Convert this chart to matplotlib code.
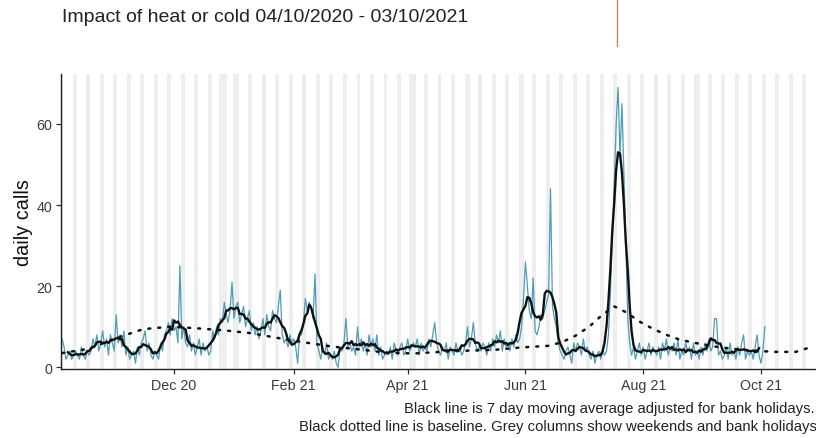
import numpy as np
import pandas as pd
import matplotlib
matplotlib.use("Agg")
import matplotlib.pyplot as plt
import matplotlib.dates as mdates
from matplotlib.lines import Line2D

plt.rcParams["font.family"] = ["Liberation Sans", "DejaVu Sans"]

# ======================================
# DATA
# ======================================

START = "2020-10-04"

# daily calls 04/10/2020 - 03/10/2021, one row per week (Sun..Sat)
daily_calls = [
    7, 5, 2, 3, 4, 2, 3,
    4, 3, 2, 5, 3, 2, 4,
    3, 4, 7, 5, 8, 4, 6,
    9, 5, 7, 3, 8, 6, 4,
    13, 6, 8, 5, 9, 3, 5,
    2, 3, 4, 1, 5, 3, 6,
    7, 9, 4, 6, 3, 2, 4,
    3, 2, 6, 4, 8, 9, 11,
    8, 12, 9, 10, 6, 25, 7,
    10, 6, 5, 8, 4, 6, 3,
    5, 7, 3, 6, 4, 5, 3,
    4, 9, 7, 10, 8, 12, 11,
    16, 13, 11, 14, 21, 12, 15,
    16, 11, 13, 15, 10, 12, 14,
    9, 11, 8, 10, 7, 9, 12,
    8, 13, 10, 9, 14, 12, 11,
    15, 19, 8, 6, 7, 5, 8,
    6, 7, 5, 1, 8, 8, 11,
    17, 14, 16, 15, 12, 23, 6,
    4, 2, 5, 3, 6, 2, 3,
    2, 4, 1, 0, 5, 4, 6,
    12, 5, 6, 4, 5, 3, 10,
    5, 7, 4, 6, 3, 8, 5,
    7, 4, 8, 3, 5, 2, 3,
    4, 3, 5, 2, 6, 4, 3,
    5, 6, 3, 4, 7, 4, 5,
    6, 5, 7, 3, 6, 4, 5,
    4, 7, 5, 8, 11, 6, 4,
    3, 5, 4, 6, 2, 5, 4,
    3, 6, 4, 5, 3, 4, 6,
    10, 5, 7, 11, 6, 4, 5,
    4, 6, 5, 3, 6, 4, 7,
    5, 8, 6, 9, 4, 7, 5,
    6, 4, 7, 5, 8, 6, 7,
    10, 17, 26, 20, 14, 12, 22,
    9, 8, 10, 13, 12, 14, 16,
    18, 44, 15, 12, 10, 6, 4,
    3, 2, 4, 5, 3, 1, 6,
    4, 6, 5, 3, 7, 4, 5,
    3, 2, 4, 1, 3, 4, 2,
    4, 3, 4, 8, 18, 32, 45,
    60, 69, 52, 65, 48, 30, 12,
    6, 3, 5, 2, 4, 6, 3,
    5, 2, 4, 6, 3, 5, 4,
    3, 5, 2, 6, 4, 7, 3,
    5, 4, 6, 3, 7, 2, 4,
    3, 6, 4, 5, 2, 6, 3,
    4, 2, 5, 3, 6, 4, 7,
    4, 5, 12, 12, 3, 4, 2,
    3, 5, 2, 6, 3, 4, 2,
    5, 3, 6, 8, 2, 4, 3,
    4, 2, 5, 8, 3, 1, 4,
    10,
]

baseline_dates = [
    "2020-10-04", "2020-10-18", "2020-11-01", "2020-11-15", "2020-11-29",
    "2020-12-13", "2020-12-27", "2021-01-10", "2021-01-24", "2021-02-07",
    "2021-02-21", "2021-03-07", "2021-03-21", "2021-04-04", "2021-04-18",
    "2021-05-02", "2021-05-16", "2021-05-30", "2021-06-13", "2021-06-20",
    "2021-06-27", "2021-07-04", "2021-07-11", "2021-07-17", "2021-07-23",
    "2021-07-30", "2021-08-06", "2021-08-13", "2021-08-20", "2021-08-30",
    "2021-09-10", "2021-09-24", "2021-10-08", "2021-10-19", "2021-10-27",
]
baseline_values = [
    3.5, 4.6, 7.2, 9.4, 10.0,
    9.6, 9.1, 8.4, 7.2, 6.1,
    5.1, 4.4, 3.6, 3.4, 3.8,
    4.1, 4.3, 4.9, 5.3, 6.2,
    7.8, 10.0, 13.0, 15.0, 13.6,
    11.3, 9.5, 8.0, 6.8, 5.8,
    4.9, 4.2, 3.8, 3.8, 5.0,
]

bank_holidays = [
    "2020-12-25", "2020-12-28", "2021-01-01", "2021-04-02",
    "2021-04-05", "2021-05-03", "2021-05-31", "2021-08-30",
]

x_ticks = ["2020-12-01", "2021-02-01", "2021-04-01",
           "2021-06-01", "2021-08-01", "2021-10-01"]

# ======================================
# PREP
# ======================================

dates = pd.date_range(START, periods=len(daily_calls), freq="D")
calls = pd.Series(daily_calls, index=dates, dtype=float)
ma7 = calls.rolling(7, center=True).mean()

x_min = pd.Timestamp(START) - pd.Timedelta(hours=14)
x_max = pd.Timestamp(START) + pd.Timedelta(days=390)

all_days = pd.date_range(x_min.normalize(), x_max.normalize(), freq="D")
grey_days = [d for d in all_days if d.dayofweek >= 5]
grey_days += [pd.Timestamp(d) for d in bank_holidays]

# ======================================
# PLOT
# ======================================

fig = plt.figure(figsize=(8.16, 4.39), dpi=100)
ax = fig.add_axes([61 / 816, 1 - 369.5 / 439, 754 / 816, 294.5 / 439])

half = pd.Timedelta(hours=12)
for d in grey_days:
    ax.axvspan(d - half, d + half, color="#eeeeee", lw=0, zorder=0)

ax.plot(calls.index, calls.values, color="#4f9cb6", lw=0.9, zorder=2)
ax.plot(ma7.index, ma7.values, color="#111111", lw=1.7, zorder=3)
ax.plot(pd.to_datetime(baseline_dates), baseline_values,
        color="#111111", lw=1.8, linestyle=(0, (0.8, 3.2)),
        dash_capstyle="round", zorder=4)

ax.set_xlim(x_min, x_max)
ax.set_ylim(-0.3, 72.3)
ax.set_yticks([0, 20, 40, 60])
ax.set_xticks(pd.to_datetime(x_ticks))
ax.xaxis.set_major_formatter(mdates.DateFormatter("%b %y"))

for side in ["top", "right"]:
    ax.spines[side].set_visible(False)
for side in ["left", "bottom"]:
    ax.spines[side].set_color("#222222")
    ax.spines[side].set_linewidth(1.0)

ax.tick_params(axis="both", length=3.5, width=0.9, color="#333333",
               labelsize=10.3, labelcolor="#3a3a3a", pad=3)

ax.set_ylabel("daily calls", fontsize=14.3, color="#111111")
ax.yaxis.set_label_coords(-0.037, 0.5)

fig.text(62 / 816, 1 - 18 / 439, "Impact of heat or cold 04/10/2020 - 03/10/2021",
         fontsize=14, color="#222222", va="center", ha="left")

fig.text(815 / 816, 1 - 409 / 439,
         "Black line is 7 day moving average adjusted for bank holidays.",
         fontsize=10.7, color="#222222", va="center", ha="right")
fig.text(817 / 816, 1 - 427 / 439,
         "Black dotted line is baseline. Grey columns show weekends and bank holidays",
         fontsize=10.7, color="#222222", va="center", ha="right")

fig.add_artist(Line2D([617 / 816, 617 / 816], [1, 1 - 47 / 439],
                      transform=fig.transFigure, color="#d9825f", lw=1.0))

fig.savefig("out.png", dpi=100)
